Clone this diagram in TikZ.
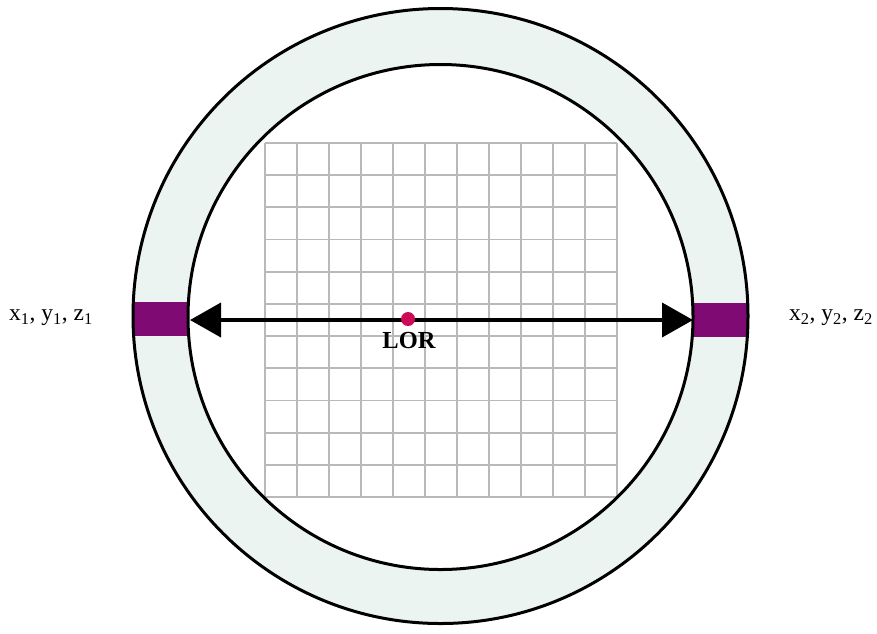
\documentclass[tikz,border=0pt]{standalone}
\usepackage{fontspec}
\setmainfont{Liberation Serif}
\usetikzlibrary{arrows.meta}
\definecolor{ringfill}{RGB}{236,244,241}
\definecolor{detpurple}{RGB}{128,10,115}
\definecolor{gridgray}{RGB}{185,185,185}
\definecolor{dotred}{RGB}{205,10,85}
\tikzset{
  ringline/.style={line width=3pt, black},
  gridline/.style={line width=1.8pt, gridgray},
  lorarrow/.style={line width=4pt, {Triangle[length=31pt,width=34pt]}-{Triangle[length=31pt,width=34pt]}},
  coordlabel/.style={font=\fontsize{23.5}{26}\selectfont, inner sep=0pt},
}
\begin{document}
\begin{tikzpicture}[x=1pt,y=-1pt]
\useasboundingbox (0,0) rectangle (877,633);
% ring
\fill[ringfill] (440.5,316) circle (307.5);
\begin{scope}
  \clip (440.5,316) circle (307.5);
  \fill[detpurple] (120,302) rectangle (200,336);
  \fill[detpurple] (680,303) rectangle (760,337);
\end{scope}
\fill[white] (440.5,317) circle (252.5);
% grid
\foreach \i in {0,...,11} {
  \draw[gridline] (265+32*\i,143) -- (265+32*\i,497);
  \draw[gridline] (265,143+32.18*\i) -- (617,143+32.18*\i);
}
\draw[ringline] (440.5,316) circle (307.5);
\draw[ringline] (440.5,317) circle (252.5);
% LOR
\coordinate (a) at (190,320);
\coordinate (b) at (693,320);
\draw[lorarrow] (a) -- (b);
\node[circle, fill=dotred, minimum size=14pt, inner sep=0pt] (dot) at (408,319) {};
\node[font=\fontsize{24.5}{26}\selectfont\bfseries, inner sep=0pt, anchor=north] (lor) at (409,332) {LOR};
\node[coordlabel, anchor=west] (p1) at (9,318) {x\textsubscript{1}, y\textsubscript{1}, z\textsubscript{1}};
\node[coordlabel, anchor=west] (p2) at (789,318) {x\textsubscript{2}, y\textsubscript{2}, z\textsubscript{2}};
\end{tikzpicture}
\end{document}
